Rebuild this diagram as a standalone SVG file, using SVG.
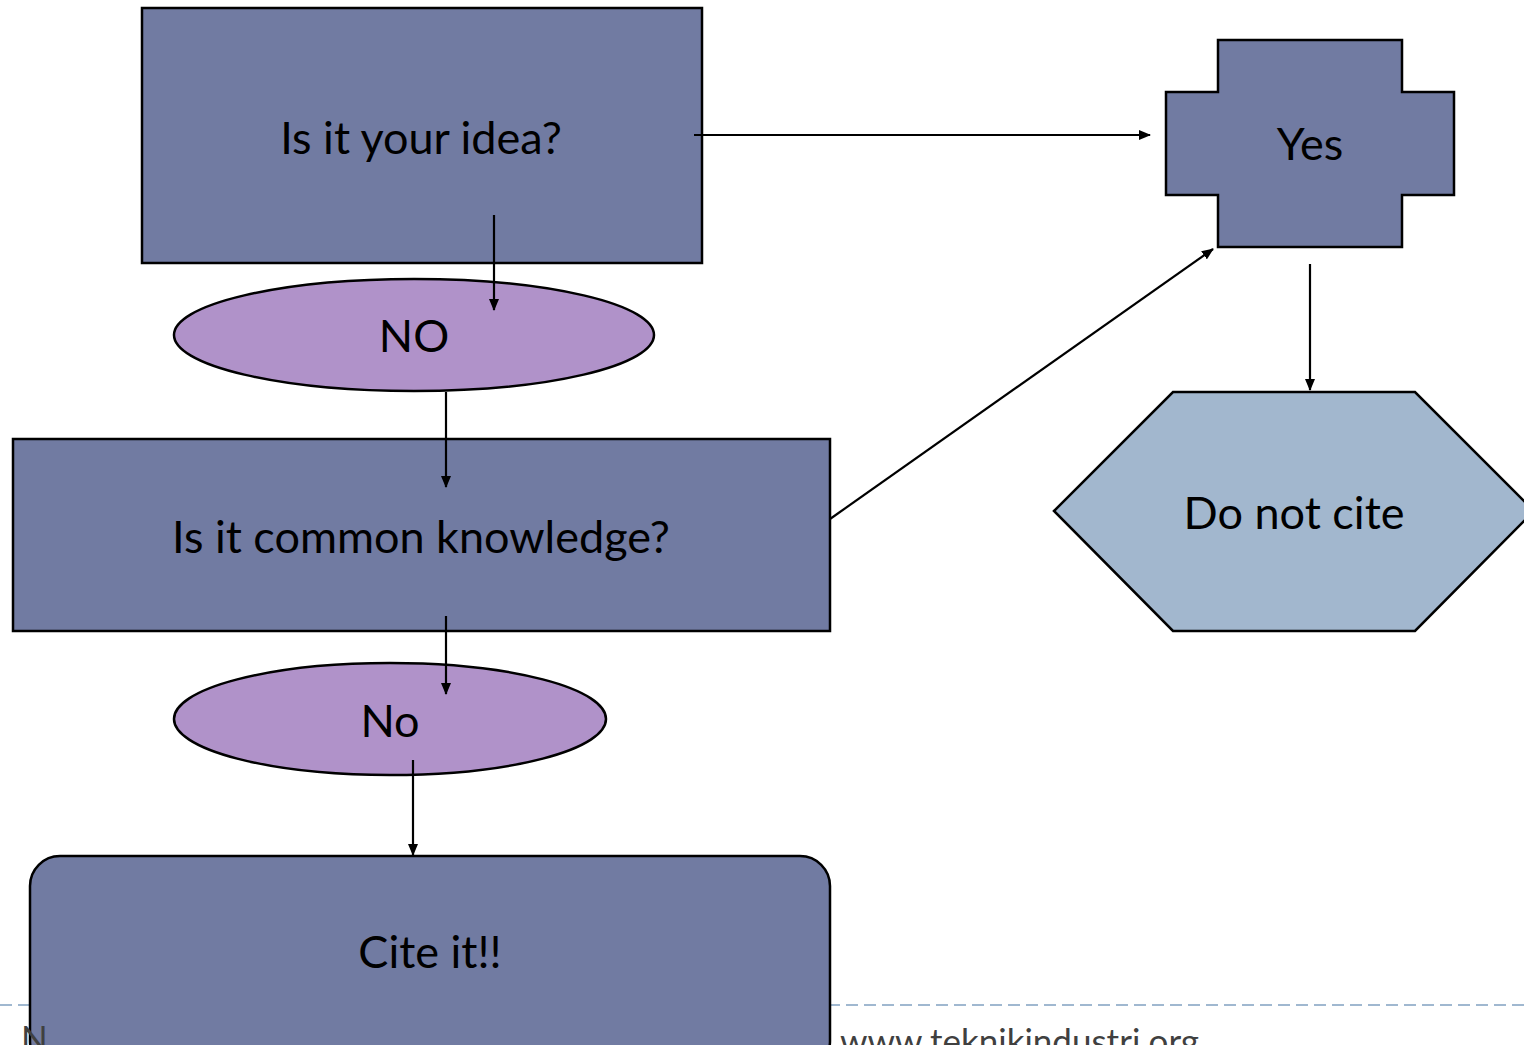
<svg xmlns="http://www.w3.org/2000/svg" width="1524" height="1045" viewBox="0 0 1524 1045">
<style>
.box{fill:#717ba2;stroke:#000;stroke-width:2.5}
.oval{fill:#b092c9;stroke:#000;stroke-width:2.5}
.hex{fill:#a2b7ce;stroke:#000;stroke-width:2.5}
.lbl{font-family:Lato,"Open Sans",sans-serif;font-size:45px;fill:#000;text-anchor:middle}
.con{stroke:#000;stroke-width:2.2;fill:none;marker-end:url(#ah)}
.foot{font-family:Lato,"Open Sans",sans-serif;font-size:35px;fill:#404040}
</style>
<defs>
<marker id="ah" markerWidth="12" markerHeight="10" refX="11" refY="5" orient="auto" markerUnits="userSpaceOnUse">
<path d="M0,0 L12,5 L0,10 Z" fill="#000"/>
</marker>
</defs>
<rect width="1524" height="1045" fill="#fff"/>
<line x1="0" y1="1005" x2="1524" y2="1005" stroke="#a0b8d0" stroke-width="2" stroke-dasharray="12,6"/>
<text class="foot" x="840" y="1054">www.teknikindustri.org</text>
<g id="n-idea">
<rect class="box" x="142" y="8" width="560" height="255"/>
<text class="lbl" x="421" y="154">Is it your idea?</text>
</g>
<g id="n-no1">
<ellipse class="oval" cx="414" cy="335" rx="240" ry="56"/>
<text class="lbl" x="414" y="352">NO</text>
</g>
<g id="n-common">
<rect class="box" x="13" y="439" width="817" height="192"/>
<text class="lbl" x="421" y="553">Is it common knowledge?</text>
</g>
<g id="n-no2">
<ellipse class="oval" cx="390" cy="719" rx="216" ry="56"/>
<text class="lbl" x="390" y="737">No</text>
</g>
<g id="n-cite">
<rect class="box" x="30" y="856" width="800" height="215" rx="30"/>
<text class="lbl" x="430" y="968">Cite it!!</text>
</g>
<text class="foot" x="21" y="1051">N</text>
<g id="n-yes">
<path class="box" d="M1218,40 H1402 V92 H1454 V195 H1402 V247 H1218 V195 H1166 V92 H1218 Z"/>
<text class="lbl" x="1310" y="160">Yes</text>
</g>
<g id="n-donot">
<path class="hex" d="M1054,511 L1173,392 H1415 L1534,511 L1415,631 H1173 Z"/>
<text class="lbl" x="1294" y="529">Do not cite</text>
</g>
<g id="connectors">
<line class="con" x1="694" y1="135" x2="1150" y2="135"/>
<line class="con" x1="494" y1="215" x2="494" y2="310"/>
<line class="con" x1="446" y1="392" x2="446" y2="487"/>
<line class="con" x1="830" y1="519" x2="1213" y2="249"/>
<line class="con" x1="1310" y1="264" x2="1310" y2="390"/>
<line class="con" x1="446" y1="616" x2="446" y2="694"/>
<line class="con" x1="413" y1="760" x2="413" y2="855"/>
</g>
</svg>
